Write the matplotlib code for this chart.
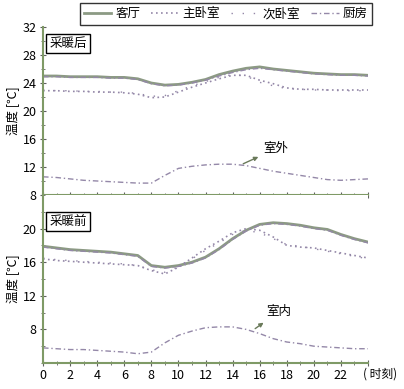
#!/usr/bin/env python3
"""Indoor / outdoor temperature before and after heating (two stacked panels)."""

import matplotlib
matplotlib.use("Agg")
import matplotlib.pyplot as plt
import numpy as np

plt.rcParams["font.family"] = ["Noto Sans CJK SC", "DejaVu Sans"]

HOURS = list(range(25))
ROOM_LABELS = ["客厅", "主卧室", "次卧室", "厨房"]

# after heating (top panel)
after_living = [25.0, 25.0, 24.9, 24.9, 24.9, 24.8, 24.8, 24.6, 24.0, 23.7, 23.8, 24.1, 24.5,
                25.2, 25.7, 26.1, 26.3, 26.0, 25.8, 25.6, 25.4, 25.3, 25.2, 25.2, 25.1]
after_master = [22.9, 22.9, 22.8, 22.8, 22.7, 22.7, 22.6, 22.4, 21.9, 22.0, 22.7, 23.4, 24.0,
                24.6, 25.1, 25.1, 24.4, 23.9, 23.3, 23.1, 23.1, 23.0, 23.0, 23.0, 23.0]
after_second = [23.0, 22.9, 22.9, 22.8, 22.8, 22.7, 22.7, 22.5, 22.1, 22.2, 22.9, 23.6, 24.2,
                24.8, 25.2, 25.0, 24.1, 23.6, 23.2, 23.1, 23.0, 23.0, 22.9, 22.9, 22.9]
after_kitchen = [24.9, 24.9, 24.8, 24.8, 24.8, 24.7, 24.7, 24.5, 23.9, 23.6, 23.7, 24.0, 24.4,
                 25.0, 25.5, 25.9, 26.1, 25.9, 25.7, 25.5, 25.3, 25.2, 25.1, 25.1, 25.0]
after_outdoor = [10.6, 10.5, 10.3, 10.1, 10.0, 9.9, 9.8, 9.7, 9.7, 10.8, 11.8, 12.1, 12.3,
                 12.4, 12.4, 12.2, 11.8, 11.4, 11.1, 10.8, 10.5, 10.2, 10.1, 10.2, 10.3]

# before heating (bottom panel)
before_living = [17.9, 17.7, 17.5, 17.4, 17.3, 17.2, 17.0, 16.8, 15.6, 15.4, 15.6, 16.0, 16.6,
                 17.6, 18.8, 19.8, 20.5, 20.7, 20.6, 20.4, 20.1, 19.9, 19.3, 18.8, 18.4]
before_master = [16.4, 16.2, 16.1, 16.0, 15.9, 15.8, 15.7, 15.6, 15.0, 14.6, 15.4, 16.5, 17.6,
                 18.5, 19.5, 20.0, 19.8, 19.0, 18.0, 17.8, 17.7, 17.4, 17.1, 16.8, 16.5]
before_second = [16.5, 16.3, 16.2, 16.1, 16.0, 15.9, 15.8, 15.6, 15.1, 14.8, 15.5, 16.4, 17.4,
                 18.3, 19.3, 19.8, 19.5, 18.8, 18.1, 17.9, 17.6, 17.3, 17.0, 16.7, 16.4]
before_kitchen = [17.8, 17.6, 17.4, 17.3, 17.2, 17.1, 16.9, 16.7, 15.5, 15.3, 15.5, 15.9, 16.5,
                  17.5, 18.7, 19.7, 20.4, 20.6, 20.5, 20.3, 20.0, 19.8, 19.2, 18.7, 18.3]
before_indoor = [5.8, 5.7, 5.6, 5.6, 5.5, 5.4, 5.3, 5.1, 5.3, 6.4, 7.3, 7.8, 8.2,
                 8.3, 8.3, 8.0, 7.5, 6.9, 6.5, 6.3, 6.0, 5.9, 5.8, 5.7, 5.7]

X_TICK_LABELS = ["0", "2", "4", "6", "8", "10", "12", "14", "16", "18", "20", "22", ""]

LINE_C = "#8c9a84"
DOT_C = "#9488a8"
AXIS_C = "#7f9a66"

STYLES = [
    dict(color=LINE_C, lw=2.0, ls="-"),
    dict(color=DOT_C, lw=1.2, ls=(0, (1, 2))),
    dict(color=DOT_C, lw=1.0, ls=(0, (1, 7))),
    dict(color=DOT_C, lw=1.0, ls=(0, (4, 2, 1, 2))),
]


def style_axis(ax, ymin, ymax, labelled):
    ax.set_xlim(0, 24)
    ax.set_ylim(ymin, ymax)
    for side in ("top", "right"):
        ax.spines[side].set_visible(False)
    for side in ("left", "bottom"):
        ax.spines[side].set_color(AXIS_C)
        ax.spines[side].set_linewidth(1.5)
    ax.set_xticks(np.arange(0, 25, 2))
    ax.set_xticks(np.arange(0, 25, 1), minor=True)
    ax.set_yticks(labelled)
    ax.set_yticks(np.arange(ymin, ymax + 0.1, 2), minor=True)
    ax.tick_params(which="both", direction="inout", color="#606060", labelsize=9, pad=2)
    ax.tick_params(which="major", length=5)
    ax.tick_params(which="minor", length=3)
    ax.set_ylabel("温度 [℃]", fontsize=9, labelpad=2)


fig = plt.figure(figsize=(4.04, 3.89), dpi=100)
ax_top = fig.add_axes([43 / 404, 1 - 195 / 389, 325 / 404, 168 / 389])
ax_bot = fig.add_axes([43 / 404, 1 - 363 / 389, 325 / 404, 168 / 389])

handles = []
for series, st, lab in zip([after_living, after_master, after_second, after_kitchen], STYLES, ROOM_LABELS):
    (h,) = ax_top.plot(HOURS, series, label=lab, **st)
    handles.append(h)
ax_top.plot(HOURS, after_outdoor, color=DOT_C, lw=1.0, ls=(0, (4, 2, 1, 2)))

for series, st in zip([before_living, before_master, before_second, before_kitchen], STYLES):
    ax_bot.plot(HOURS, series, **st)
ax_bot.plot(HOURS, before_indoor, color=DOT_C, lw=1.0, ls=(0, (4, 2, 1, 2)))

style_axis(ax_top, 8, 32, [8, 12, 16, 20, 24, 28, 32])
style_axis(ax_bot, 4, 24, [8, 12, 16, 20])
ax_top.tick_params(axis="x", labelbottom=False)
ax_bot.set_xticklabels(X_TICK_LABELS)
ax_bot.text(0.985, -0.025, "( 时刻)", transform=ax_bot.transAxes, fontsize=8.5,
            ha="left", va="top")

box = dict(boxstyle="square,pad=0.25", fc="white", ec="black", lw=1)
ax_top.text(0.02, 0.94, "采暖后", transform=ax_top.transAxes, fontsize=9, va="top", bbox=box)
ax_bot.text(0.02, 0.88, "采暖前", transform=ax_bot.transAxes, fontsize=9, va="top", bbox=box)

arrow = dict(arrowstyle="<|-", color="#6a7a5a", lw=1.0, mutation_scale=6)
ax_top.annotate("室外", xy=(14.6, 12.3), xytext=(16.3, 14.6), fontsize=9,
                ha="left", va="center", arrowprops=arrow)
ax_bot.annotate("室内", xy=(15.5, 7.9), xytext=(16.5, 10.1), fontsize=9,
                ha="left", va="center", arrowprops=arrow)

fig.legend(handles=handles, loc="upper right", bbox_to_anchor=(372 / 404, 1 - 3 / 389),
           ncol=4, fontsize=9, frameon=True, fancybox=False, edgecolor="black",
           handlelength=2.2, handletextpad=0.3, columnspacing=0.9,
           borderpad=0.35, borderaxespad=0)

fig.savefig("out.png", dpi=100)
